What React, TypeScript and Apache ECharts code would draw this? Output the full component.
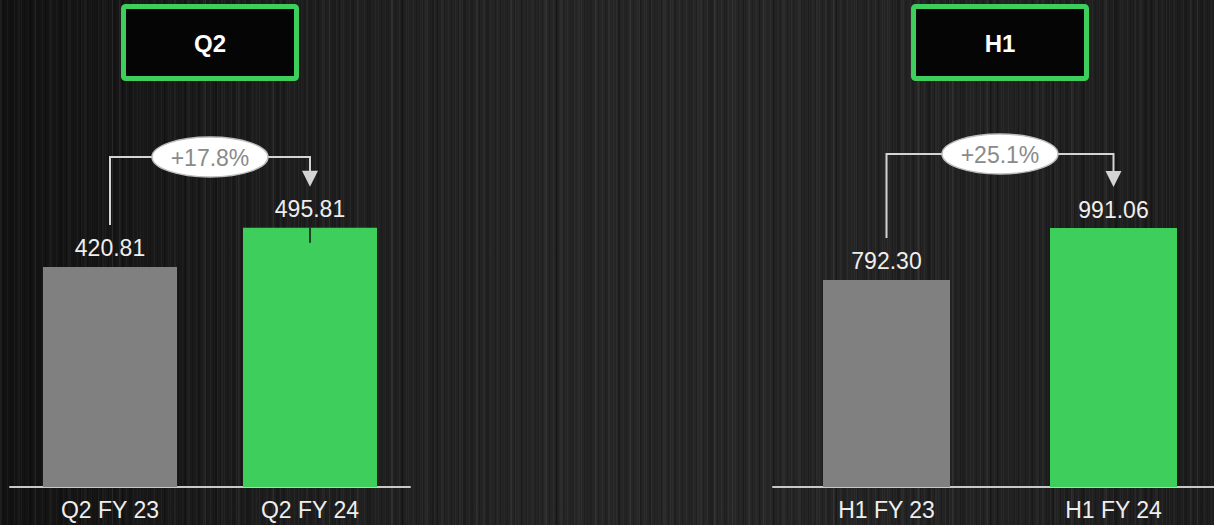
import React, { useEffect, useRef } from "react";
import * as echarts from "echarts";

const q2Categories = ["Q2 FY 23", "Q2 FY 24"];
const q2Values = [420.81, 495.81];
const h1Categories = ["H1 FY 23", "H1 FY 24"];
const h1Values = [792.3, 991.06];
const panelTitles = ["Q2", "H1"];
const growthLabels = ["+17.8%", "+25.1%"];

const GREEN = "#3dce5b";
const GRAY = "#808080";
const FONT = "'Liberation Sans', Arial, sans-serif";

export default function App() {
  const ref = useRef<HTMLDivElement>(null);

  useEffect(() => {
    if (!ref.current) return;
    const chart = echarts.init(ref.current, null, { renderer: "svg" });

    const barColors = [GRAY, GREEN];
    const mkData = (vals: number[]) =>
      vals.map((v, i) => ({ value: v, itemStyle: { color: barColors[i] } }));

    const xAxisCommon = {
      type: "category" as const,
      axisLine: { lineStyle: { color: "#c8c8c8", width: 2 } },
      axisTick: { show: false },
      axisLabel: { color: "#eeeeee", fontSize: 23, fontFamily: FONT, margin: 11 },
      splitLine: { show: false },
    };
    const yAxisCommon = {
      type: "value" as const,
      min: 0,
      show: false,
      splitLine: { show: false },
    };
    const labelCommon = {
      show: true,
      position: "top" as const,
      distance: 7,
      color: "#eeeeee",
      fontSize: 23,
      fontFamily: FONT,
      formatter: (p: any) => Number(p.value).toFixed(2),
    };

    chart.setOption({
      animation: false,
      backgroundColor: "transparent",
      grid: [
        { left: 10, width: 400, top: 0, bottom: 38 },
        { left: 773, width: 454, top: 0, bottom: 38 },
      ],
      xAxis: [
        { ...xAxisCommon, gridIndex: 0, data: q2Categories },
        { ...xAxisCommon, gridIndex: 1, data: h1Categories },
      ],
      yAxis: [
        { ...yAxisCommon, gridIndex: 0, max: 931.5 },
        { ...yAxisCommon, gridIndex: 1, max: 1864 },
      ],
      series: [
        {
          type: "bar",
          xAxisIndex: 0,
          yAxisIndex: 0,
          barWidth: 134,
          data: mkData(q2Values),
          label: labelCommon,
        },
        {
          type: "bar",
          xAxisIndex: 1,
          yAxisIndex: 1,
          barWidth: 127,
          data: mkData(h1Values),
          label: labelCommon,
        },
      ],
    });

    const panels = [
      { vals: q2Values, idx: 0, level: 157, tick: true },
      { vals: h1Values, idx: 1, level: 154, tick: false },
    ];
    const lineStyle = { stroke: "#d4d4d4", lineWidth: 2 };
    const graphics: any[] = [];
    panels.forEach((p) => {
      const finder = { xAxisIndex: p.idx, yAxisIndex: p.idx };
      const a = chart.convertToPixel(finder, [0, p.vals[0]]) as number[];
      const b = chart.convertToPixel(finder, [1, p.vals[1]]) as number[];
      const mid = (a[0] + b[0]) / 2;
      const tip = b[1] - 41;
      const rx = 58;
      graphics.push({
        type: "rect",
        shape: { x: mid - 86.5, y: 6.5, width: 173, height: 72, r: 2 },
        style: { fill: "#050505", stroke: GREEN, lineWidth: 5 },
        z: 10,
      });
      graphics.push({
        type: "text",
        x: mid,
        y: 43,
        style: {
          text: panelTitles[p.idx],
          fill: "#ffffff",
          fontSize: 24,
          fontWeight: "bold",
          fontFamily: FONT,
          align: "center",
          verticalAlign: "middle",
        },
        z: 11,
      });
      graphics.push({
        type: "polyline",
        shape: {
          points: [
            [a[0], a[1] - 42],
            [a[0], p.level],
            [mid - rx, p.level],
          ],
        },
        style: { ...lineStyle, fill: null },
        z: 10,
      });
      graphics.push({
        type: "polyline",
        shape: {
          points: [
            [mid + rx, p.level],
            [b[0], p.level],
            [b[0], tip - 15],
          ],
        },
        style: { ...lineStyle, fill: null },
        z: 10,
      });
      graphics.push({
        type: "polygon",
        shape: {
          points: [
            [b[0] - 8, tip - 16],
            [b[0] + 8, tip - 16],
            [b[0], tip],
          ],
        },
        style: { fill: "#d4d4d4" },
        z: 10,
      });
      if (p.tick) {
        graphics.push({
          type: "line",
          shape: { x1: b[0], y1: b[1], x2: b[0], y2: b[1] + 15 },
          style: { stroke: "#111", lineWidth: 1.5 },
          z: 10,
        });
      }
      graphics.push({
        type: "ellipse",
        shape: { cx: mid, cy: p.level, rx: rx, ry: 20 },
        style: { fill: "#ffffff", stroke: "#bdbdbd", lineWidth: 1.5 },
        z: 11,
      });
      graphics.push({
        type: "text",
        x: mid,
        y: p.level + 1,
        style: {
          text: growthLabels[p.idx],
          fill: "#8a8a8a",
          fontSize: 23,
          fontFamily: FONT,
          align: "center",
          verticalAlign: "middle",
        },
        z: 12,
      });
    });
    chart.setOption({ graphic: graphics });

    return () => chart.dispose();
  }, []);

  const bg = [
    "repeating-linear-gradient(90deg, rgba(255,255,255,0.035) 0 1px, transparent 1px 3px, rgba(0,0,0,0.18) 3px 4px, transparent 4px 7px)",
    "repeating-linear-gradient(90deg, rgba(255,255,255,0.03) 0 2px, transparent 2px 11px, rgba(0,0,0,0.12) 11px 13px, transparent 13px 17px)",
    "repeating-linear-gradient(90deg, transparent 0 19px, rgba(255,255,255,0.04) 19px 20px, transparent 20px 29px, rgba(0,0,0,0.2) 29px 31px)",
    "linear-gradient(90deg, #121212 0%, #1c1c1c 20%, #252525 45%, #262626 60%, #222 80%, #1d1d1d 100%)",
  ].join(", ");

  return (
    <div
      style={{
        position: "fixed",
        left: 0,
        top: 0,
        width: 1214,
        height: 525,
        overflow: "hidden",
        background: bg,
      }}
    >
      <div ref={ref} style={{ width: 1240, height: 525 }} />
    </div>
  );
}
